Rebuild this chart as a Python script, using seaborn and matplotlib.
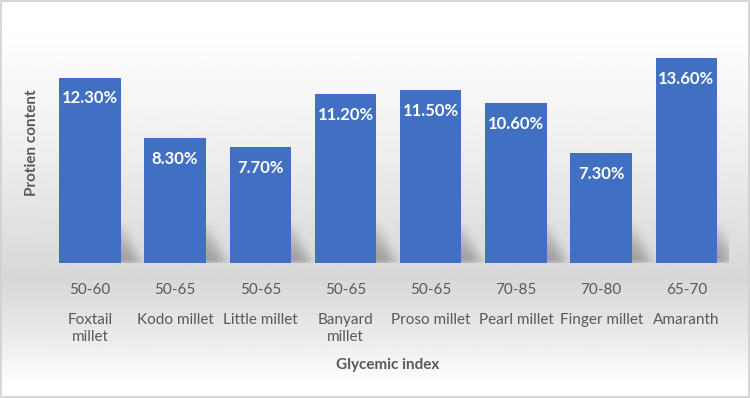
import numpy as np
import pandas as pd
import matplotlib
matplotlib.use("Agg")
import matplotlib.pyplot as plt
from matplotlib.patches import Rectangle
import seaborn as sns

# 数据
millets = ['Foxtail\nmillet', 'Kodo millet', 'Little millet', 'Banyard\nmillet',
           'Proso millet', 'Pearl millet', 'Finger millet', 'Amaranth']
glycemic = ['50-60', '50-65', '50-65', '50-65', '50-65', '70-85', '70-80', '65-70']
protein = [12.3, 8.3, 7.7, 11.2, 11.5, 10.6, 7.3, 13.6]

df = pd.DataFrame({'millet': millets, 'gi': glycemic, 'protein': protein})

sns.set_theme(style="white")
plt.rcParams['font.family'] = ['Lato', 'DejaVu Sans']

fig = plt.figure(figsize=(7.5, 3.98), dpi=100)

# 背景渐变
bg = fig.add_axes([0, 0, 1, 1], zorder=0)
yy = np.linspace(0, 1, 400)
stops_y = [0.0, 0.03, 0.17, 0.30, 0.62, 0.90, 1.0]
stops_v = [1.0, 1.0, 0.91, 0.845, 0.935, 0.995, 1.0]
shade = np.interp(yy, stops_y, stops_v)
img = np.repeat(shade[:, None], 10, axis=1)
bg.imshow(img, cmap='gray', vmin=0, vmax=1, aspect='auto', origin='lower',
          extent=[0, 1, 0, 1])
bg.axis('off')
fig.patches.append(Rectangle((0.001, 0.002), 0.997, 0.995, transform=fig.transFigure,
                             fill=False, edgecolor='#d0d0d0', linewidth=1.2))

ax = fig.add_axes([0.063, 0.339, 0.909, 0.606], zorder=1)
ax.patch.set_alpha(0)
sns.barplot(data=df, x='millet', y='protein', color='#4170C2', saturation=1,
            width=0.72, ax=ax, zorder=3, linewidth=0, edgecolor='none')
ax.set_ylim(0, 16)
ax.set_xlim(-0.5, len(protein) - 0.5)

# 柱子阴影：倾斜形状 + 高斯模糊
bars = list(ax.patches)
gx = np.linspace(-0.5, len(protein) - 0.5, 700)
gy = np.linspace(0, 3.4, 120)
X, Y = np.meshgrid(gx, gy)
mask = np.zeros_like(X)
for p in bars:
    s = 0.22 * (1 - Y / 2.6)
    inside = (X > p.get_x() + s + 0.05) & (X < p.get_x() + p.get_width() + s) & (Y < 2.6)
    mask[inside] = np.clip(1.0 - Y[inside] / 2.9, 0, 1) ** 0.6


def blur(a, sig, axis):
    r = int(3 * sig)
    k = np.exp(-0.5 * (np.arange(-r, r + 1) / sig) ** 2)
    k /= k.sum()
    return np.apply_along_axis(lambda v: np.convolve(v, k, mode='same'), axis, a)


mask = blur(blur(mask, 6, 1), 6, 0)
rgba = np.zeros(mask.shape + (4,))
rgba[..., :3] = 0.3
rgba[..., 3] = np.clip(mask * 0.45, 0, 1)
ax.imshow(rgba, extent=[gx[0], gx[-1], gy[0], gy[-1]], origin='lower',
          aspect='auto', zorder=2, interpolation='bilinear')

# 数值标签
for p, v in zip(bars, protein):
    ax.annotate(f'{v:.2f}%', (p.get_x() + p.get_width() / 2, p.get_height()),
                xytext=(0, -15), textcoords='offset points', ha='center', va='center',
                color='white', fontsize=12, fontweight='bold', zorder=5)

# 两层x轴标签
ax.set_xticks(range(len(glycemic)))
ax.set_xticklabels(glycemic, fontsize=11, color='#595959')
ax.tick_params(axis='x', length=0, pad=14)
ax.tick_params(axis='y', left=False, labelleft=False)
for i, name in enumerate(millets):
    ax.annotate(name, (i, 0), xycoords=('data', 'axes fraction'), xytext=(0, -36),
                textcoords='offset points', ha='center', va='top', fontsize=11,
                color='#595959', linespacing=1.3)

ax.set_xlabel('Glycemic index', fontsize=11, fontweight='bold', color='#595959',
              labelpad=44)
ax.set_ylabel('Protien content', fontsize=11, fontweight='bold', color='#595959',
              labelpad=6)
sns.despine(ax=ax, left=True, bottom=True)
ax.set_ylim(0, 16)

fig.savefig('out.png', dpi=100)
